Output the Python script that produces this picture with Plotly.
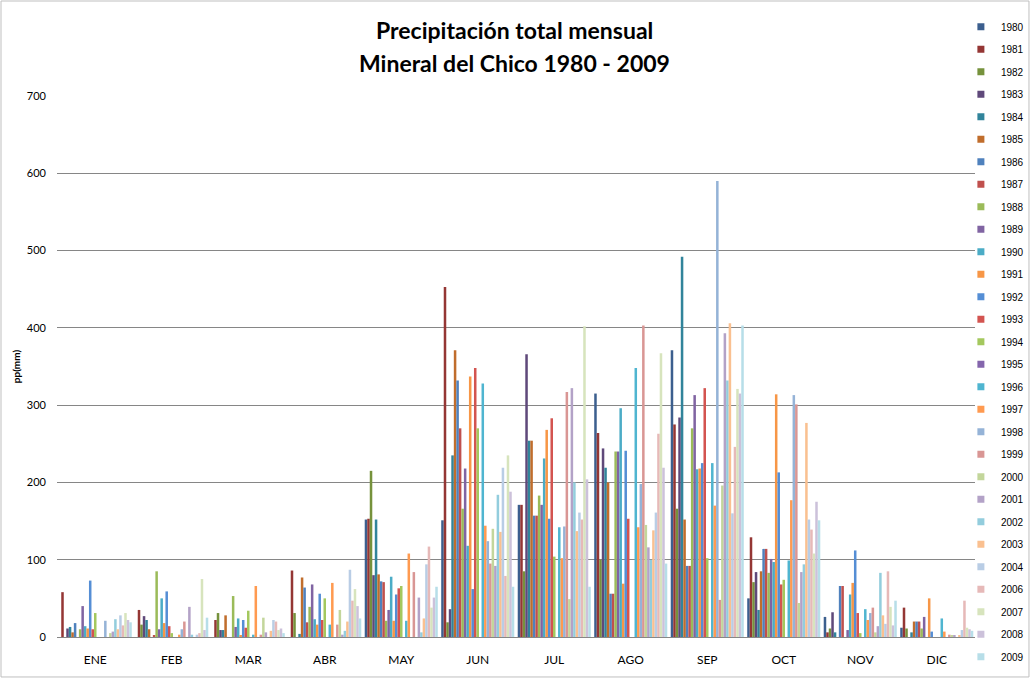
import plotly.graph_objects as go

months = ["ENE", "FEB", "MAR", "ABR", "MAY", "JUN", "JUL", "AGO", "SEP", "OCT", "NOV", "DIC"]
years = ["1980", "1981", "1982", "1983", "1984", "1985", "1986", "1987", "1988", "1989",
         "1990", "1991", "1992", "1993", "1994", "1995", "1996", "1997", "1998", "1999",
         "2000", "2001", "2002", "2003", "2004", "2006", "2007", "2008", "2009"]

# precipitation (mm) per year, ENE..DIC
p1980 = [0, 0, 0, 0, 152, 151, 171, 315, 371, 50, 26, 12]
p1981 = [58, 35, 22, 86, 153, 453, 171, 264, 275, 129, 6, 38]
p1982 = [0, 16, 31, 31, 215, 19, 85, 100, 166, 71, 11, 11]
p1983 = [11, 27, 9, 0, 80, 36, 366, 244, 284, 84, 32, 0]
p1984 = [13, 22, 9, 4, 152, 235, 254, 219, 492, 35, 6, 6]
p1985 = [6, 10, 28, 77, 81, 371, 254, 200, 152, 85, 0, 20]
p1986 = [18, 0, 0, 64, 72, 332, 157, 56, 92, 114, 66, 20]
p1987 = [0, 2, 0, 19, 71, 270, 157, 56, 92, 114, 66, 20]
p1988 = [10, 85, 53, 39, 21, 166, 183, 240, 270, 83, 0, 11]
p1989 = [40, 10, 13, 68, 35, 218, 171, 240, 313, 101, 9, 26]
p1990 = [14, 50, 24, 23, 78, 118, 231, 296, 217, 97, 55, 0]
p1991 = [11, 18, 2, 16, 21, 337, 268, 69, 218, 314, 70, 50]
p1992 = [73, 59, 22, 56, 55, 62, 153, 241, 225, 213, 112, 7]
p1993 = [10, 14, 12, 22, 63, 348, 283, 153, 322, 68, 31, 0]
p1994 = [31, 5, 34, 50, 66, 270, 104, 0, 102, 74, 5, 0]
p1995 = [0, 0, 0, 0, 0, 0, 0, 0, 0, 0, 0, 0]
p1996 = [0, 0, 3, 16, 21, 328, 142, 348, 225, 99, 36, 24]
p1997 = [0, 3, 66, 70, 108, 144, 102, 142, 170, 177, 22, 7]
p1998 = [21, 10, 0, 0, 0, 124, 143, 198, 590, 313, 31, 0]
p1999 = [0, 20, 3, 16, 84, 95, 317, 403, 48, 301, 38, 3]
p2000 = [5, 0, 25, 35, 0, 140, 49, 145, 196, 44, 6, 2]
p2001 = [7, 39, 6, 3, 51, 92, 322, 116, 393, 84, 14, 2]
p2002 = [23, 3, 0, 8, 6, 184, 200, 100, 332, 94, 83, 0]
p2003 = [10, 0, 8, 20, 24, 136, 137, 138, 406, 277, 28, 2]
p2004 = [28, 3, 22, 87, 94, 219, 161, 161, 160, 152, 17, 9]
p2006 = [15, 5, 20, 47, 117, 79, 152, 263, 246, 139, 85, 47]
p2007 = [31, 75, 9, 62, 38, 235, 402, 367, 321, 108, 39, 12]
p2008 = [22, 9, 11, 40, 51, 188, 204, 219, 315, 175, 15, 10]
p2009 = [19, 25, 5, 24, 65, 65, 65, 95, 403, 151, 47, 8]

series = [p1980, p1981, p1982, p1983, p1984, p1985, p1986, p1987, p1988, p1989,
          p1990, p1991, p1992, p1993, p1994, p1995, p1996, p1997, p1998, p1999,
          p2000, p2001, p2002, p2003, p2004, p2006, p2007, p2008, p2009]

colors = ["#3C5F8E", "#943634", "#76923C", "#5F497A", "#31849B", "#C06D2C",
          "#4F81BD", "#C0504D", "#9BBB59", "#8064A2", "#4BACC6", "#F79646",
          "#558ED5", "#D35450", "#A4C85E", "#8465AC", "#4FB5D0", "#FF9A50",
          "#95B3D7", "#D99694", "#C3D69B", "#B3A2C7", "#93CDDD", "#FAC090",
          "#B9CDE5", "#E6B9B8", "#D7E4BD", "#CCC1DA", "#B7DEE8"]

fig = go.Figure()
for yr, vals, col in zip(years, series, colors):
    fig.add_trace(go.Bar(name=yr, x=months, y=vals, marker=dict(color=col, line=dict(width=0)),
                         legendgroup=yr, showlegend=False))
# legend entries with small square keys
for yr, col in zip(years, colors):
    fig.add_trace(go.Scatter(name=yr, x=[None], y=[None], mode="markers",
                             marker=dict(symbol="square", size=7, color=col),
                             legendgroup=yr, showlegend=True, hoverinfo="skip"))

fig.update_layout(
    width=1031, height=679,
    paper_bgcolor="white", plot_bgcolor="white",
    barmode="group", bargap=0.045, bargroupgap=0,
    margin=dict(l=57, r=56, t=96, b=42, autoexpand=False),
    font=dict(family="Lato, Arial, sans-serif", color="#000000"),
    showlegend=True,
    legend=dict(xref="container", yref="container", x=0.932, xanchor="left",
                y=0.982, yanchor="top", maxheight=679,
                font=dict(size=10, family="Arial, sans-serif"),
                itemwidth=30, tracegroupgap=3.5, bgcolor="rgba(0,0,0,0)"),
    xaxis=dict(showgrid=False, showline=True, linecolor="#868686", linewidth=1,
               ticks="", ticklabelstandoff=12,
               tickfont=dict(size=12, family="Lato, Arial, sans-serif")),
    yaxis=dict(range=[0, 700], dtick=100, showgrid=True, gridcolor="#868686", gridwidth=1,
               showline=False, zeroline=False, ticks="", ticklabelstandoff=10,
               tickfont=dict(size=11, family="Lato, Arial, sans-serif"),
               title=dict(text="<b>pp(mm)</b>", font=dict(size=10), standoff=4)),
    annotations=[
        dict(text="<b>Precipitación total mensual</b>", xref="paper", yref="paper",
             x=0.4989, y=1.122, xanchor="center", yanchor="middle", showarrow=False,
             font=dict(size=23, family="Lato, Arial, sans-serif", color="#000000")),
        dict(text="<b>Mineral del Chico 1980 - 2009</b>", xref="paper", yref="paper",
             x=0.4989, y=1.061, xanchor="center", yanchor="middle", showarrow=False,
             font=dict(size=23, family="Lato, Arial, sans-serif", color="#000000")),
    ],
    shapes=[dict(type="rect", xref="paper", yref="paper",
                 x0=-0.061, x1=1.0588, y0=-0.0739, y1=1.1756,
                 line=dict(color="#BFBFBF", width=1), fillcolor="rgba(0,0,0,0)", layer="below")],
)

fig.write_html("out.html", post_script="document.body.style.margin='0px';",
               config={"displayModeBar": False})
